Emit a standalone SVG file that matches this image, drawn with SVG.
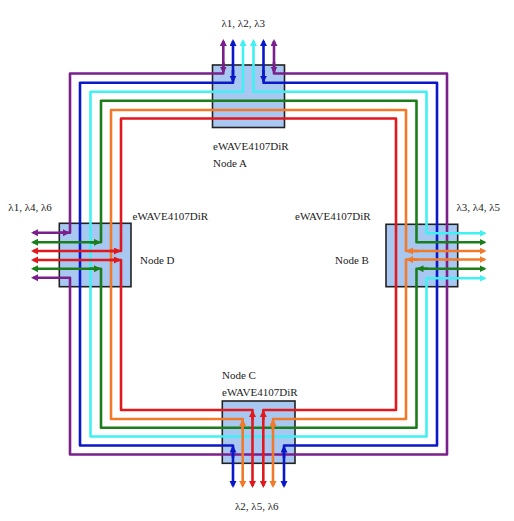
<svg xmlns="http://www.w3.org/2000/svg" width="514" height="521" viewBox="0 0 514 521">
<style>
.box{fill:#a8c8f2;stroke:#222;stroke-width:1.6}
.lbl{font-family:"Liberation Serif","Times New Roman",serif;font-size:11px;fill:#222}
.w{fill:none;stroke-width:2.6;stroke-linejoin:round}
.p{stroke:#7a1f8c}.b{stroke:#0b18c9}.c{stroke:#40f0f2}.g{stroke:#1a7f1a}.o{stroke:#f07a2a}.r{stroke:#e0191f}
</style>
<defs>
<marker id="mp" markerUnits="userSpaceOnUse" markerWidth="8" markerHeight="8" refX="5" refY="3.5" orient="auto-start-reverse"><path d="M0,0 L7,3.5 L0,7 z" fill="#7a1f8c"/></marker>
<marker id="mb" markerUnits="userSpaceOnUse" markerWidth="8" markerHeight="8" refX="5" refY="3.5" orient="auto-start-reverse"><path d="M0,0 L7,3.5 L0,7 z" fill="#0b18c9"/></marker>
<marker id="mc" markerUnits="userSpaceOnUse" markerWidth="8" markerHeight="8" refX="5" refY="3.5" orient="auto-start-reverse"><path d="M0,0 L7,3.5 L0,7 z" fill="#40f0f2"/></marker>
<marker id="mg" markerUnits="userSpaceOnUse" markerWidth="8" markerHeight="8" refX="5" refY="3.5" orient="auto-start-reverse"><path d="M0,0 L7,3.5 L0,7 z" fill="#1a7f1a"/></marker>
<marker id="mo" markerUnits="userSpaceOnUse" markerWidth="8" markerHeight="8" refX="5" refY="3.5" orient="auto-start-reverse"><path d="M0,0 L7,3.5 L0,7 z" fill="#f07a2a"/></marker>
<marker id="mr" markerUnits="userSpaceOnUse" markerWidth="8" markerHeight="8" refX="5" refY="3.5" orient="auto-start-reverse"><path d="M0,0 L7,3.5 L0,7 z" fill="#e0191f"/></marker>
</defs>
<rect width="514" height="521" fill="#fff"/>
<g id="nodeA">
<rect class="box" x="212.5" y="65" width="72" height="62.5"/>
<text class="lbl" x="221.5" y="26.5">λ1, λ2, λ3</text>
<text class="lbl" x="213" y="149.5">eWAVE4107DiR</text>
<text class="lbl" x="213" y="166.5">Node A</text>
</g>
<g id="nodeB">
<rect class="box" x="386" y="224.3" width="71.7" height="62.4"/>
<text class="lbl" x="456.5" y="210.5">λ3, λ4, λ5</text>
<text class="lbl" x="295" y="219.5">eWAVE4107DiR</text>
<text class="lbl" x="335" y="264">Node B</text>
</g>
<g id="nodeC">
<rect class="box" x="222.3" y="401" width="72.7" height="62.3"/>
<text class="lbl" x="222" y="378.5">Node C</text>
<text class="lbl" x="222" y="396">eWAVE4107DiR</text>
<text class="lbl" x="235" y="510">λ2, λ5, λ6</text>
</g>
<g id="nodeD">
<rect class="box" x="59.3" y="223.3" width="71.7" height="63.4"/>
<text class="lbl" x="8.3" y="210.5">λ1, λ4, λ6</text>
<text class="lbl" x="132.5" y="220">eWAVE4107DiR</text>
<text class="lbl" x="140" y="263.5">Node D</text>
</g>
<g id="connectors">
<path class="w p" d="M223.3,41 V73.5 H70 V232.7 H33" marker-start="url(#mp)" marker-end="url(#mp)"/>
<path class="w p" d="M274,41 V73.5 H447 V454.5 H70 V277.7 H33" marker-start="url(#mp)" marker-end="url(#mp)"/>
<path class="w b" d="M233,41 V82.8 H80 V445.5 H233 V486" marker-start="url(#mb)" marker-end="url(#mb)"/>
<path class="w b" d="M263.5,41 V82.8 H437 V445.5 H284 V486" marker-start="url(#mb)" marker-end="url(#mb)"/>
<path class="w c" d="M243,41 V91.8 H90.5 V436.5 H426.5 V278.3 H484.5" marker-start="url(#mc)" marker-end="url(#mc)"/>
<path class="w c" d="M253.5,41 V91.8 H426.5 V233.3 H484.5" marker-start="url(#mc)" marker-end="url(#mc)"/>
<path class="w g" d="M33,242.3 H101 V100.8 H416.5 V242.3 H484.5" marker-start="url(#mg)" marker-end="url(#mg)"/>
<path class="w g" d="M33,268.7 H101 V427.7 H416.5 V268.7 H484.5" marker-start="url(#mg)" marker-end="url(#mg)"/>
<path class="w o" d="M484.5,251 H406 V110 H111 V419 H242.7 V486" marker-start="url(#mo)" marker-end="url(#mo)"/>
<path class="w o" d="M484.5,259.5 H406 V419 H273 V486" marker-start="url(#mo)" marker-end="url(#mo)"/>
<path class="w r" d="M33,251 H121 V118.5 H396 V410 H263.3 V486" marker-start="url(#mr)" marker-end="url(#mr)"/>
<path class="w r" d="M33,260 H121 V410 H252.5 V486" marker-start="url(#mr)" marker-end="url(#mr)"/>
<path class="w p" d="M223.3,71.5 V62" marker-start="url(#mp)"/>
<path class="w b" d="M233,80.8 V70" marker-start="url(#mb)"/>
<path class="w b" d="M263.5,80.8 V70" marker-start="url(#mb)"/>
<path class="w p" d="M274,71.5 V62" marker-start="url(#mp)"/>
<path class="w b" d="M233,447.5 V458" marker-start="url(#mb)"/>
<path class="w o" d="M242.7,421 V430" marker-start="url(#mo)"/>
<path class="w r" d="M252.5,412 V420" marker-start="url(#mr)"/>
<path class="w r" d="M263.3,412 V420" marker-start="url(#mr)"/>
<path class="w o" d="M273,421 V430" marker-start="url(#mo)"/>
<path class="w b" d="M284,447.5 V458" marker-start="url(#mb)"/>
<path class="w p" d="M68,232.7 H60" marker-start="url(#mp)"/>
<path class="w g" d="M99,242.3 H90" marker-start="url(#mg)"/>
<path class="w r" d="M119,251 H110" marker-start="url(#mr)"/>
<path class="w r" d="M119,260 H110" marker-start="url(#mr)"/>
<path class="w g" d="M99,268.7 H90" marker-start="url(#mg)"/>
<path class="w o" d="M408,251 H418" marker-start="url(#mo)"/>
<path class="w o" d="M408,259.5 H418" marker-start="url(#mo)"/>
<path class="w g" d="M418.5,268.7 H428" marker-start="url(#mg)"/>
</g>
</svg>
